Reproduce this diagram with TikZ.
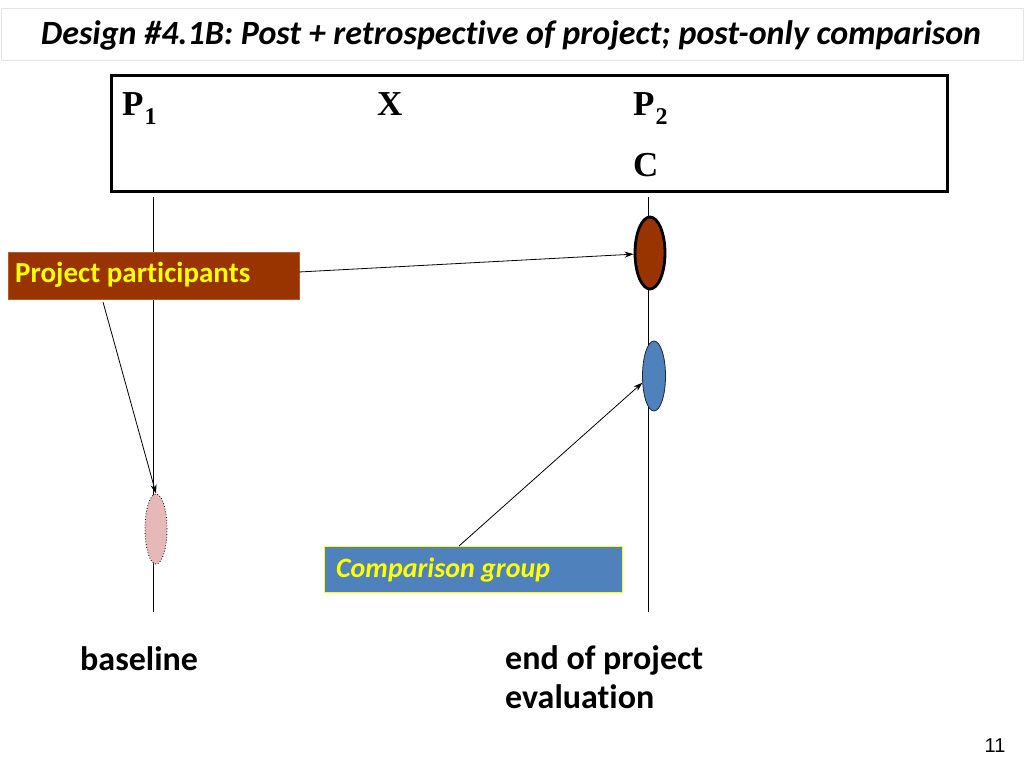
\documentclass[tikz,border=0pt]{standalone}
\usepackage{fontspec}
\setmainfont{Liberation Serif}
\newfontfamily\carlitof[Ligatures=NoCommon]{Carlito}
\newfontfamily\arialf{Liberation Sans}
\usetikzlibrary{shapes.geometric,arrows.meta}
\definecolor{brownfill}{HTML}{993300}
\definecolor{bluefill}{HTML}{4F81BD}
\definecolor{pinkfill}{HTML}{E6B9B8}
\definecolor{yellowtxt}{HTML}{FFFF00}
\newcommand\mysubd[1]{\hspace{1pt}\raisebox{-9pt}{\fontsize{24}{24}\selectfont #1}}
\tikzset{
  conn/.style={draw=black, line width=0.8pt, -{Stealth[length=9pt,width=6pt]}},
  tline/.style={draw=black, line width=0.8pt},
  lab/.style={font=\carlitof\bfseries\fontsize{34}{39}\selectfont, text=black, anchor=base west, inner sep=0pt, align=left},
  sym/.style={font=\bfseries\fontsize{35}{36}\selectfont, anchor=base west, inner sep=0pt},
  boxtext/.style={font=\carlitof\bfseries\fontsize{29}{32}\selectfont, text=yellowtxt, anchor=west, inner sep=0pt},
}
\begin{document}
\begin{tikzpicture}[x=1pt,y=-1pt]
\useasboundingbox (0,0) rectangle (1024,768);
\fill[white] (0,0) rectangle (1024,768);
% title band
\node[draw=black!10, fill=white, line width=0.8pt, minimum width=1022pt, minimum height=52pt, inner sep=0pt] (titleband) at (512,34) {};
\node[font=\carlitof\bfseries\itshape\fontsize{34}{38}\selectfont, inner sep=0pt] (title) at (511,35) {Design \#4.1B: Post + retrospective of project; post-only comparison};
% main box
\node[draw=black, line width=3pt, minimum width=836pt, minimum height=116pt, inner sep=0pt] (mainbox) at (529,133) {};
\node[sym] (p1) at (122,115) {P\mysubd{1}};
\node[sym] (x) at (377,115) {X};
\node[sym] (p2) at (633,115) {P\mysubd{2}};
\node[sym] (c) at (633,176) {C};
% timelines
\coordinate (l1t) at (153,197);
\coordinate (l1b) at (153,612);
\coordinate (l2t) at (648,197);
\coordinate (l2b) at (648,612);
\draw[tline] (l1t) -- (l1b);
\draw[tline] (l2t) -- (l2b);
% ellipses
\node[ellipse, draw=black, line width=2.8pt, fill=brownfill, minimum width=30pt, minimum height=72pt, inner sep=0pt] (ebrown) at (650,253) {};
\node[ellipse, draw=black!70!bluefill, line width=0.8pt, fill=bluefill, minimum width=23pt, minimum height=70pt, inner sep=0pt] (eblue) at (654,376) {};
\node[ellipse, draw=black, dotted, line width=0.8pt, fill=pinkfill, minimum width=22pt, minimum height=70pt, inner sep=0pt] (epink) at (156,529) {};
% label boxes
\node[fill=brownfill, draw=brownfill!80!white, line width=0.8pt, minimum width=291pt, minimum height=47pt, inner sep=0pt] (ppbox) at (153.5,275.5) {};
\node[boxtext] (pptext) at (15,275) {Project participants};
\node[fill=bluefill, draw=yellowtxt, line width=1pt, minimum width=298pt, minimum height=46pt, inner sep=0pt] (cgbox) at (473,569) {};
\node[boxtext, font=\carlitof\bfseries\itshape\fontsize{28}{32}\selectfont] (cgtext) at (336,570) {Comparison group};
% arrows
\coordinate (ppr) at (299,272);
\coordinate (ppl) at (103,302);
\coordinate (cgt) at (459,546);
\draw[conn] (ppr) -- (ebrown.184);
\draw[conn] (ppl) -- (epink.north);
\draw[conn] (cgt) -- (eblue.210);
% bottom labels
\node[lab] (baseline) at (80,670) {baseline};
\node[lab, anchor=north west] (endproj) at (505,645) {end of project\\evaluation};
\node[font=\arialf\fontsize{20}{22}\selectfont, inner sep=0pt] (pagenum) at (995,746) {11};
\end{tikzpicture}
\end{document}
